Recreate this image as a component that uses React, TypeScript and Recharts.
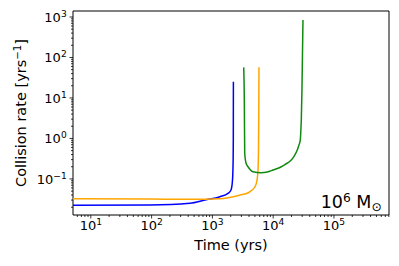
import React from 'react';
import { LineChart, Line, XAxis, YAxis, ReferenceArea, Label } from 'recharts';

const FONT = '"DejaVu Sans", "Liberation Sans", sans-serif';

// Time domain / rate domain (log axes)
const xDomain = [5.09, 8.04e5];
const yDomain = [0.01285, 1406];

// Series values
const blueTime = [5.09, 94, 428, 755, 1333, 1806, 2024, 2142, 2195, 2208, 2215];
const blueRate = [0.0223, 0.0227, 0.025, 0.0301, 0.0363, 0.044, 0.0532, 0.094, 0.3, 1.0, 25.1];

const orangeTime = [5.09, 94, 428, 1333, 2844, 3890, 5020, 5420, 5630, 5730, 5790, 5835];
const orangeRate = [0.0324, 0.0319, 0.0314, 0.0325, 0.04, 0.0456, 0.0641, 0.094, 0.166, 0.518, 3.0, 57];

const greenTime = [3275, 3350, 3400, 3570, 3855, 4660, 6310, 8000, 9930, 13600, 15630, 19850, 22390, 24900, 26550, 27900, 28440, 29000, 29750, 30900];
const greenRate = [57, 8.9, 0.436, 0.247, 0.2, 0.151, 0.142, 0.148, 0.166, 0.2, 0.227, 0.293, 0.378, 0.517, 0.687, 0.912, 1.44, 2.84, 15.7, 840];

const seriesColors = { blue: '#0000ff', orange: '#ffa500', green: '#118a11' };

const buildTable = (ts: number[], rs: number[]) => ts.map((t, i) => ({ t, r: rs[i] }));
const blueData = buildTable(blueTime, blueRate);
const orangeData = buildTable(orangeTime, orangeRate);
const greenData = buildTable(greenTime, greenRate);

const minorTicks = (lo: number, hi: number) => {
  const out: number[] = [];
  for (let e = Math.floor(Math.log10(lo)); e <= Math.ceil(Math.log10(hi)); e++) {
    for (let k = 1; k <= 9; k++) {
      const v = k * Math.pow(10, e);
      if (v >= lo && v <= hi) out.push(Number(v.toPrecision(6)));
    }
  }
  return out;
};
const xTicks = minorTicks(xDomain[0], xDomain[1]);
const yTicks = minorTicks(yDomain[0], yDomain[1]);

const isMajor = (v: number) => Math.abs(Math.log10(v) - Math.round(Math.log10(v))) < 1e-6;
const expText = (v: number) => {
  const e = Math.round(Math.log10(v));
  return e < 0 ? '\u2212' + String(-e) : String(e);
};

const XTick = (props: any) => {
  const { x, y, payload } = props;
  const v = payload.value;
  const major = isMajor(v);
  return (
    <g>
      <line x1={x} x2={x} y1={y} y2={y + (major ? 3.5 : 2)} stroke="#000" strokeWidth={0.8} />
      {major && (
        <text x={x} y={y + 15} textAnchor="middle" fontFamily={FONT} fontSize={13} fill="#000">
          10
          <tspan dy={-4.8} fontSize={9.1}>{expText(v)}</tspan>
        </text>
      )}
    </g>
  );
};

const YTick = (props: any) => {
  const { x, y, payload } = props;
  const v = payload.value;
  const major = isMajor(v);
  return (
    <g>
      <line x1={x - (major ? 3.5 : 2)} x2={x} y1={y} y2={y} stroke="#000" strokeWidth={0.8} />
      {major && (
        <text x={x - 6.3} y={y + 4.7} textAnchor="end" fontFamily={FONT} fontSize={13} fill="#000">
          10
          <tspan dy={-4.8} fontSize={9.1}>{expText(v)}</tspan>
        </text>
      )}
    </g>
  );
};

const renderYLabel = (props: any) => {
  const vb = props.viewBox || { x: 0, y: 11, width: 73, height: 204 };
  const cy = vb.y + vb.height / 2;
  return (
    <text
      transform={`translate(26.3, ${cy}) rotate(-90)`}
      textAnchor="middle"
      fontFamily={FONT}
      fontSize={14.5}
      fill="#000"
    >
      Collision rate [yrs
      <tspan dy={-5.5} fontSize={10.2}>{'\u22121'}</tspan>
      <tspan dy={5.5}>]</tspan>
    </text>
  );
};

const renderXLabel = (props: any) => {
  const vb = props.viewBox || { x: 73, y: 215, width: 316, height: 51 };
  return (
    <text x={vb.x + vb.width / 2} y={250} textAnchor="middle" fontFamily={FONT} fontSize={14.5} fill="#000">
      Time (yrs)
    </text>
  );
};

const renderAnnot = (props: any) => {
  const vb = props.viewBox || { x: 73, y: 11, width: 316, height: 204 };
  const right = vb.x + vb.width - 7.3;
  const base = vb.y + vb.height - 7;
  return (
    <text x={right} y={base} textAnchor="end" fontFamily={FONT} fontSize={17.5} fill="#000">
      10
      <tspan dy={-5.8} fontSize={12.25}>6</tspan>
      <tspan dy={5.8}>{'\u00A0M'}</tspan>
      <tspan dy={2.6} fontSize={12.25}>{'\u2299'}</tspan>
    </text>
  );
};

export default function App() {
  return (
    <div style={{ position: 'absolute', left: 0, top: 0, width: 399, height: 266, background: '#fff' }}>
      <LineChart width={399} height={266} margin={{ top: 11, right: 10, bottom: 0, left: 0 }}>
        <XAxis
          dataKey="t"
          type="number"
          scale="log"
          domain={xDomain}
          allowDataOverflow
          ticks={xTicks}
          interval={0}
          tick={<XTick />}
          tickLine={false}
          tickSize={0}
          tickMargin={0}
          axisLine={false}
          height={51}
          label={{ content: renderXLabel }}
        />
        <YAxis
          dataKey="r"
          type="number"
          scale="log"
          domain={yDomain}
          allowDataOverflow
          ticks={yTicks}
          interval={0}
          tick={<YTick />}
          tickLine={false}
          tickSize={0}
          tickMargin={0}
          axisLine={false}
          width={73}
          label={{ content: renderYLabel }}
        />
        <Line data={blueData} dataKey="r" type="monotone" stroke={seriesColors.blue} strokeWidth={1.5} dot={false} isAnimationActive={false} />
        <Line data={orangeData} dataKey="r" type="monotone" stroke={seriesColors.orange} strokeWidth={1.5} dot={false} isAnimationActive={false} />
        <Line data={greenData} dataKey="r" type="monotone" stroke={seriesColors.green} strokeWidth={1.5} dot={false} isAnimationActive={false} />
        <ReferenceArea
          x1={xDomain[0]}
          x2={xDomain[1]}
          y1={yDomain[0]}
          y2={yDomain[1]}
          fill="none"
          fillOpacity={0}
          stroke="#000"
          strokeWidth={1}
          ifOverflow="visible"
        >
          <Label content={renderAnnot} />
        </ReferenceArea>
      </LineChart>
    </div>
  );
}
